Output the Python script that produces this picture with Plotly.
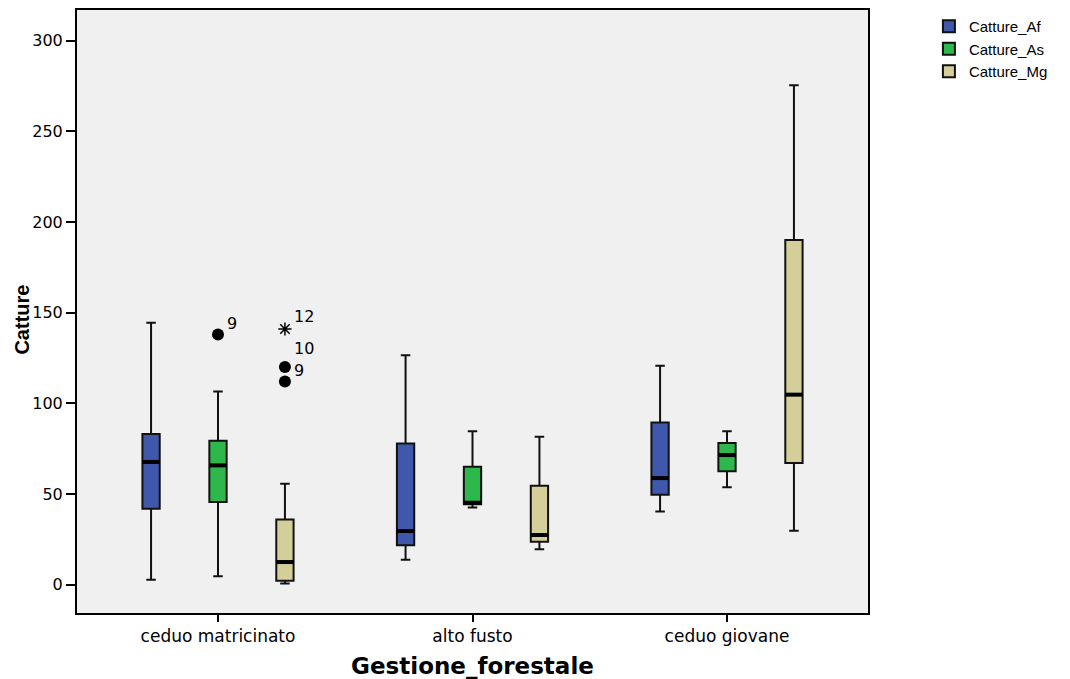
import plotly.graph_objects as go

# Categories on the x axis
categories = ["ceduo matricinato", "alto fusto", "ceduo giovane"]
series = ["Catture_Af", "Catture_As", "Catture_Mg"]

# Five-number summaries per series (one value per category)
lower_whisker = {
    "Catture_Af": [2.8, 13.8, 40.4],
    "Catture_As": [4.6, 42.6, 53.7],
    "Catture_Mg": [0.7, 19.5, 29.8],
}
q1 = {
    "Catture_Af": [41.9, 21.7, 49.6],
    "Catture_As": [45.6, 44.3, 62.5],
    "Catture_Mg": [2.2, 23.7, 67.1],
}
median = {
    "Catture_Af": [67.7, 29.6, 58.8],
    "Catture_As": [65.8, 45.2, 71.5],
    "Catture_Mg": [12.5, 27.4, 104.8],
}
q3 = {
    "Catture_Af": [83.1, 77.9, 89.5],
    "Catture_As": [79.4, 65.1, 78.2],
    "Catture_Mg": [36.0, 54.6, 190.1],
}
upper_whisker = {
    "Catture_Af": [144.5, 126.5, 120.8],
    "Catture_As": [106.6, 84.6, 84.6],
    "Catture_Mg": [55.7, 81.6, 275.4],
}

# Outlying cases: series, category index, value, case label, extreme flag
outlier_series = ["Catture_As", "Catture_Mg", "Catture_Mg", "Catture_Mg"]
outlier_category = [0, 0, 0, 0]
outlier_value = [138, 141, 120, 112]
outlier_case = ["9", "12", "10", "9"]
outlier_extreme = [False, True, False, False]

colors = {"Catture_Af": "#3F58AB", "Catture_As": "#2EB84B", "Catture_Mg": "#D4CF99"}
offsets = {"Catture_Af": -0.263, "Catture_As": 0.0, "Catture_Mg": 0.263}
box_width = 0.068
# vertical pixel offset of each case label above its marker
label_lift = [11, 13, 19, 11]

font_main = "Liberation Sans, Arial, sans-serif"
font_wide = "DejaVu Sans, Verdana, sans-serif"

fig = go.Figure()

for s in series:
    xs = [i + offsets[s] for i in range(len(categories))]
    fig.add_trace(go.Box(
        name=s,
        x=xs,
        lowerfence=lower_whisker[s],
        q1=q1[s],
        median=median[s],
        q3=q3[s],
        upperfence=upper_whisker[s],
        width=box_width,
        whiskerwidth=0.55,
        fillcolor=colors[s],
        line=dict(color="#111111", width=2),
        boxpoints=False,
        hoverinfo="skip",
    ))

# Thicker median bars drawn over each box
for s in series:
    mx, my = [], []
    for i, m in enumerate(median[s]):
        c = i + offsets[s]
        mx += [c - box_width / 2, c + box_width / 2, None]
        my += [m, m, None]
    fig.add_trace(go.Scatter(
        x=mx, y=my, mode="lines",
        line=dict(color="black", width=4),
        showlegend=False, hoverinfo="skip",
    ))

# Outlier markers and case labels
for s, ci, v, lab, ext, lift in zip(outlier_series, outlier_category, outlier_value,
                                    outlier_case, outlier_extreme, label_lift):
    px = ci + offsets[s]
    if ext:
        marker = dict(symbol="asterisk-open", size=11, color="black",
                      line=dict(color="black", width=1.5))
    else:
        marker = dict(symbol="circle", size=12, color="black",
                      line=dict(color="black", width=0))
    fig.add_trace(go.Scatter(
        x=[px], y=[v], mode="markers", marker=marker,
        showlegend=False, hoverinfo="skip",
    ))
    fig.add_annotation(
        x=px, y=v, text=lab, showarrow=False,
        xanchor="left", yanchor="middle", xshift=7, yshift=lift,
        font=dict(family=font_wide, size=16, color="black"),
    )

fig.add_annotation(
    xref="paper", yref="paper", x=-0.07, y=0.486,
    text="<b>Catture</b>", textangle=-90, showarrow=False,
    xanchor="center", yanchor="middle",
    font=dict(family=font_main, size=20, color="black"),
)

fig.update_layout(
    width=1070, height=679,
    margin=dict(l=77, r=202, t=10, b=66),
    paper_bgcolor="white",
    plot_bgcolor="#F0F0F0",
    boxmode="overlay",
    font=dict(family=font_main, size=14, color="black"),
    showlegend=True,
    legend=dict(
        x=1.077, y=1.0, xanchor="left", yanchor="top",
        font=dict(family=font_main, size=15, color="black"),
        bgcolor="rgba(0,0,0,0)", itemwidth=30, tracegroupgap=0,
    ),
    xaxis=dict(
        range=[-0.554, 2.554],
        automargin=False,
        tickmode="array",
        tickvals=list(range(len(categories))),
        ticktext=categories,
        ticks="outside", ticklen=7, tickwidth=2, tickcolor="black",
        showline=True, linecolor="black", linewidth=2, mirror=True,
        showgrid=False, zeroline=False,
        tickfont=dict(family=font_wide, size=17, color="black"),
        title=dict(text="<b>Gestione_forestale</b>", standoff=12,
                   font=dict(family=font_wide, size=23, color="black")),
    ),
    yaxis=dict(
        range=[-15.6, 316.9],
        automargin=False,
        tickmode="array",
        tickvals=[0, 50, 100, 150, 200, 250, 300],
        ticks="outside", ticklen=9, tickwidth=2, tickcolor="black",
        showline=True, linecolor="black", linewidth=2, mirror=True,
        showgrid=False, zeroline=False,
        tickfont=dict(family=font_wide, size=16, color="black"),
    ),
)

fig.write_html("out.html")
